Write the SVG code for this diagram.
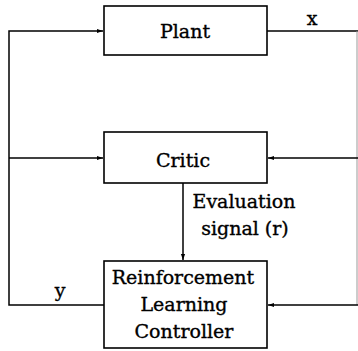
<svg xmlns="http://www.w3.org/2000/svg" width="358" height="351" viewBox="0 0 358 351">
<style>
.box{fill:#fff;stroke:#000;stroke-width:1.6}
.t{font-family:"DejaVu Serif","Liberation Serif",serif;font-size:19px;fill:#000;stroke:#000;stroke-width:0.35;text-anchor:middle}
.ln{fill:none;stroke:#000;stroke-width:1.5}
.faint{fill:none;stroke:#999;stroke-width:1}
</style>
<defs>
<marker id="ah" viewBox="0 0 10 10" refX="10" refY="5" markerWidth="6" markerHeight="6" markerUnits="userSpaceOnUse" orient="auto">
<path d="M0,1.5 L10,5 L0,8.5 z" fill="#000"/>
</marker>
</defs>
<g id="connectors">
<polyline class="ln" points="104,305 9,305 9,31 103,31" marker-end="url(#ah)"/>
<line class="ln" x1="9" y1="158" x2="103" y2="158" marker-end="url(#ah)"/>
<line class="ln" x1="267" y1="31" x2="358" y2="31"/>
<line class="faint" x1="357" y1="31" x2="357" y2="305"/>
<line class="ln" x1="358" y1="158" x2="268" y2="158" marker-end="url(#ah)"/>
<line class="ln" x1="358" y1="305" x2="268" y2="305" marker-end="url(#ah)"/>
<line class="ln" x1="183" y1="183" x2="183" y2="260" marker-end="url(#ah)"/>
<text class="t" x="312" y="25">x</text>
<text class="t" x="60" y="297">y</text>
<text class="t" x="244" y="208">Evaluation</text>
<text class="t" x="245" y="235">signal (r)</text>
</g>
<g id="plant">
<rect class="box" x="104" y="6" width="163" height="49"/>
<text class="t" x="185" y="38">Plant</text>
</g>
<g id="critic">
<rect class="box" x="104" y="132" width="163" height="51"/>
<text class="t" x="183" y="167">Critic</text>
</g>
<g id="controller">
<rect class="box" x="104" y="261" width="163" height="87"/>
<text class="t" x="183" y="284">Reinforcement</text>
<text class="t" x="184" y="311">Learning</text>
<text class="t" x="184" y="338">Controller</text>
</g>
</svg>
